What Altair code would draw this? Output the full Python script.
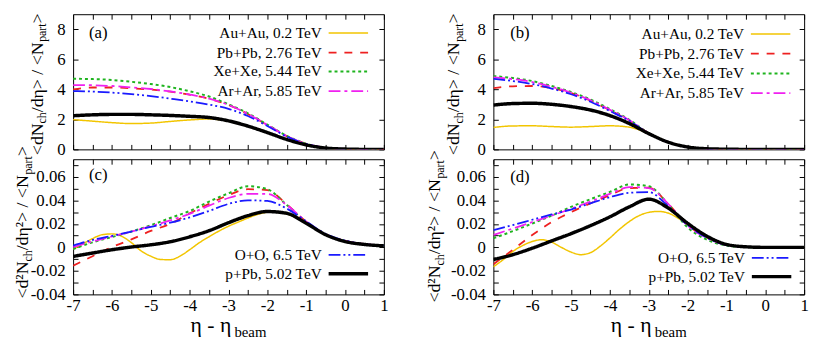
import altair as alt
import pandas as pd

FONT = "Liberation Serif"

# ---------------- data ----------------
X = [-7.0, -6.5, -6.0, -5.5, -5.0, -4.5, -4.0, -3.5, -3.0, -2.5, -2.0, -1.5, -1.0, -0.5, 0.0, 0.5, 1.0]
X_FINE = [-7.0, -6.75, -6.5, -6.25, -6.0, -5.75, -5.5, -5.25, -5.0, -4.75, -4.5, -4.25, -4.0, -3.75,
          -3.5, -3.25, -3.0, -2.75, -2.5, -2.25, -2.0, -1.75, -1.5, -1.25, -1.0, -0.75, -0.5, -0.25,
          0.0, 0.25, 0.5, 0.75, 1.0]

SERIES = ["Au+Au, 0.2 TeV", "Pb+Pb, 2.76 TeV", "Xe+Xe, 5.44 TeV", "Ar+Ar, 5.85 TeV",
          "O+O, 6.5 TeV", "p+Pb, 5.02 TeV"]
COLORS = ["#f2c500", "#ee2020", "#1fb41f", "#f020f0", "#1a1aff", "#000000"]
DASHES = [[1, 0], [8, 8], [3, 3], [12, 4, 3, 4], [12, 3, 2, 3, 2, 3], [1, 0]]
WIDTHS = [1.5, 1.8, 2.0, 1.8, 1.8, 3.5]

# panel (a)
A_AU = [1.98, 1.88, 1.78, 1.72, 1.75, 1.86, 1.96, 2.02, 1.88, 1.53, 1.11, 0.65, 0.29, 0.09, 0.02, 0.0, 0.0]
A_PB = [4.00, 4.12, 4.12, 4.07, 3.98, 3.84, 3.64, 3.37, 2.96, 2.36, 1.62, 0.88, 0.37, 0.11, 0.03, 0.01, 0.0]
A_XE = [4.70, 4.68, 4.62, 4.50, 4.35, 4.15, 3.87, 3.52, 3.00, 2.40, 1.65, 0.90, 0.38, 0.11, 0.03, 0.01, 0.0]
A_AR = [4.28, 4.27, 4.22, 4.13, 4.02, 3.86, 3.65, 3.38, 2.96, 2.36, 1.62, 0.88, 0.37, 0.11, 0.03, 0.01, 0.0]
A_OO = [3.88, 3.85, 3.78, 3.68, 3.55, 3.38, 3.20, 2.98, 2.70, 2.22, 1.56, 0.85, 0.36, 0.10, 0.03, 0.01, 0.0]
A_PPB = [2.24, 2.30, 2.33, 2.33, 2.30, 2.26, 2.20, 2.12, 1.90, 1.55, 1.12, 0.66, 0.30, 0.09, 0.02, 0.0, 0.0]

# panel (b)
B_AU = [1.46, 1.56, 1.57, 1.52, 1.48, 1.52, 1.57, 1.48, 1.05, 0.50, 0.18, 0.05, 0.01, 0.0, 0.0, 0.0, 0.0]
B_PB = [4.08, 4.20, 4.22, 4.08, 3.75, 3.25, 2.60, 1.92, 1.07, 0.48, 0.16, 0.04, 0.01, 0.0, 0.0, 0.0, 0.0]
B_XE = [4.88, 4.75, 4.55, 4.22, 3.82, 3.32, 2.68, 1.97, 1.08, 0.48, 0.16, 0.04, 0.01, 0.0, 0.0, 0.0, 0.0]
B_AR = [4.80, 4.68, 4.48, 4.17, 3.77, 3.27, 2.63, 1.94, 1.07, 0.48, 0.16, 0.04, 0.01, 0.0, 0.0, 0.0, 0.0]
B_OO = [4.70, 4.55, 4.35, 4.05, 3.67, 3.17, 2.55, 1.90, 1.06, 0.48, 0.16, 0.04, 0.01, 0.0, 0.0, 0.0, 0.0]
B_PPB = [2.95, 3.05, 3.07, 3.00, 2.85, 2.62, 2.25, 1.72, 1.05, 0.48, 0.16, 0.04, 0.01, 0.0, 0.0, 0.0, 0.0]

# panel (c)
C_AU = [-0.0015, 0.0030, 0.0075, 0.0108, 0.0115, 0.0095, 0.0040, -0.0030, -0.0075, -0.0103, -0.0105,
        -0.0075, -0.0020, 0.0040, 0.0090, 0.0138, 0.0180, 0.0215, 0.0250, 0.0280, 0.0298, 0.0298,
        0.0285, 0.0250, 0.0205, 0.0155, 0.0108, 0.0075, 0.0050, 0.0035, 0.0025, 0.0018, 0.0013]
C_PB = [-0.0156, -0.0075, 0.0003, 0.0068, 0.0140, 0.0200, 0.0290, 0.0370, 0.0445, 0.0495, 0.0488,
        0.0365, 0.0220, 0.0112, 0.0056, 0.0028, 0.0015]
C_XE = [-0.0014, 0.0043, 0.0088, 0.0135, 0.0188, 0.0250, 0.0310, 0.0390, 0.0460, 0.0520, 0.0495,
        0.0360, 0.0215, 0.0110, 0.0055, 0.0027, 0.0014]
C_AR = [0.0003, 0.0050, 0.0094, 0.0135, 0.0180, 0.0230, 0.0285, 0.0355, 0.0420, 0.0455, 0.0455,
        0.0360, 0.0220, 0.0112, 0.0056, 0.0028, 0.0015]
C_OO = [0.0015, 0.0063, 0.0098, 0.0135, 0.0175, 0.0210, 0.0255, 0.0310, 0.0370, 0.0400, 0.0395,
        0.0330, 0.0222, 0.0115, 0.0058, 0.0028, 0.0015]
C_PPB = [-0.0077, -0.0048, -0.0020, 0.0003, 0.0022, 0.0048, 0.0090, 0.0142, 0.0210, 0.0270, 0.0305,
         0.0290, 0.0205, 0.0108, 0.0050, 0.0025, 0.0013]

# panel (d)
D_AU = [-0.0165, -0.0105, -0.0035, 0.0015, 0.0050, 0.0065, 0.0045, 0.0000, -0.0040, -0.0062, -0.0045,
        0.0010, 0.0080, 0.0155, 0.0220, 0.0270, 0.0298, 0.0306, 0.0292, 0.0250, 0.0195, 0.0140,
        0.0090, 0.0050, 0.0025, 0.0010, 0.0004, 0.0001, 0.0, 0.0, 0.0, 0.0, 0.0]
D_PB = [-0.0144, -0.0020, 0.0105, 0.0215, 0.0300, 0.0375, 0.0445, 0.0505, 0.0508, 0.0370, 0.0190,
        0.0085, 0.0022, 0.0004, 0.0, 0.0, 0.0]
D_XE = [0.0078, 0.0138, 0.0203, 0.0270, 0.0345, 0.0410, 0.0472, 0.0535, 0.0520, 0.0365, 0.0170,
        0.0065, 0.0016, 0.0003, 0.0, 0.0, 0.0]
D_AR = [0.0106, 0.0160, 0.0215, 0.0270, 0.0328, 0.0390, 0.0455, 0.0513, 0.0505, 0.0370, 0.0185,
        0.0080, 0.0020, 0.0004, 0.0, 0.0, 0.0]
D_OO = [0.0147, 0.0190, 0.0235, 0.0280, 0.0322, 0.0375, 0.0428, 0.0465, 0.0470, 0.0350, 0.0190,
        0.0082, 0.0020, 0.0004, 0.0, 0.0, 0.0]
D_PPB = [-0.0103, -0.0062, -0.0007, 0.0055, 0.0117, 0.0185, 0.0260, 0.0345, 0.0410, 0.0335, 0.0205,
         0.0095, 0.0025, 0.0005, 0.0, 0.0, 0.0]

X_TICKS = [-7.0, -6.5, -6.0, -5.5, -5.0, -4.5, -4.0, -3.5, -3.0, -2.5, -2.0, -1.5, -1.0, -0.5, 0.0, 0.5, 1.0]
Y_TICKS_TOP = [0, 2, 4, 6, 8]
Y_TICKS_BOT = [-0.04, -0.03, -0.02, -0.01, 0, 0.01, 0.02, 0.03, 0.04, 0.05, 0.06, 0.07]

TITLE_TOP = [("<dN", 18, 0), ("ch", 12, 4), ("/dη> / <N", 18, 0), ("part", 12, 4), (">", 18, 0)]
TITLE_BOT = [("<d²N", 18, 0), ("ch", 12, 4), ("/dη²> / <N", 18, 0), ("part", 12, 4), (">", 18, 0)]
XTITLE = [("η - η", 22, 0), ("beam", 15, 5)]

# ---------------- helpers ----------------
W, H = 315, 137
CW = {'<': 0.564, '>': 0.564, 'd': 0.5, 'N': 0.722, '/': 0.278, ' ': 0.25, 'η': 0.56, '²': 0.3,
      'c': 0.444, 'h': 0.5, 'p': 0.5, 'a': 0.444, 'r': 0.333, 't': 0.278, '-': 0.333,
      'b': 0.5, 'e': 0.444, 'm': 0.778}


def twidth(s, size):
    return sum(CW.get(ch, 0.5) for ch in s) * size


def text(s, x, y, size, align="left", baseline="middle", angle=0, dx=0, dy=0):
    return alt.Chart(pd.DataFrame({"t": [s]})).mark_text(
        font=FONT, fontSize=size, align=align, baseline=baseline, angle=angle,
        dx=dx, dy=dy, color="black"
    ).encode(x=alt.value(x), y=alt.value(y), text="t:N")


def composite(segs, x, y, angle, gap=0.0):
    total = sum(twidth(t, s) for t, s, _ in segs) + gap * (len(segs) - 1)
    pos = -total / 2
    out = []
    for t, s, shift in segs:
        out.append(text(t, x, y, s, align="left", baseline="alphabetic", angle=angle, dx=pos, dy=shift))
        pos += twidth(t, s) + gap
    return out


def panel(ys, au, ydom, yticks, bottom, label, label_xy, legend_idx, legend_rows, legend_xr,
          title_segs, title_x, title_yc):
    xscale = alt.Scale(domain=[-7, 1], nice=False, zero=False)
    yscale = alt.Scale(domain=ydom, nice=False, zero=False)
    xaxis = alt.Axis(orient="bottom", values=X_TICKS, labels=bottom, tickSize=5, offset=-5,
                     title=None, labelPadding=3, labelFlush=False, labelOverlap=False,
                     labelExpr="datum.value % 1 == 0 ? '' + datum.value : ''")
    if bottom:
        yaxis = alt.Axis(orient="left", values=yticks, tickSize=5, offset=-5, title=None,
                         labelPadding=8, labelFlush=False, labelOverlap=False,
                         labelExpr="round(datum.value * 100) % 2 == 0 ? '' + datum.value : ''")
    else:
        yaxis = alt.Axis(orient="left", values=yticks, tickSize=5, offset=-5, title=None,
                         labelPadding=8, labelFlush=False, labelOverlap=False)
    layers = []
    all_series = [(X_FINE if bottom else X, au)] + [(X, v) for v in ys]
    for i, (xs, vals) in enumerate(all_series):
        df = pd.DataFrame({"x": xs, "y": vals})
        layers.append(alt.Chart(df).mark_line(
            color=COLORS[i], strokeDash=DASHES[i], strokeWidth=WIDTHS[i],
            interpolate="monotone", clip=True
        ).encode(x=alt.X("x:Q", scale=xscale, axis=xaxis),
                 y=alt.Y("y:Q", scale=yscale, axis=yaxis)))
    # panel label
    layers.append(text(label, label_xy[0], label_xy[1], 17))
    # legend
    for idx, ry in zip(legend_idx, legend_rows):
        layers.append(text(SERIES[idx], legend_xr, ry, 15.5, align="right"))
        layers.append(alt.Chart(pd.DataFrame({"t": [SERIES[idx]]})).mark_rule(
            color=COLORS[idx], strokeDash=DASHES[idx], strokeWidth=WIDTHS[idx]
        ).encode(x=alt.value(legend_xr + 7), x2=alt.value(legend_xr + 47), y=alt.value(ry)))
    # y title
    layers += composite(title_segs, title_x, title_yc, 270)
    # x title
    if bottom:
        layers += composite(XTITLE, W / 2, H + 38, 0, gap=1.5)
    inner = alt.layer(*layers)
    mirror_df = pd.DataFrame({"x": X, "y": ys[0]})
    mirror = alt.Chart(mirror_df).mark_line(opacity=0).encode(
        x=alt.X("x:Q", scale=xscale,
                axis=alt.Axis(orient="top", values=X_TICKS, labels=False, tickSize=5, offset=-5,
                              title=None)),
        y=alt.Y("y:Q", scale=yscale,
                axis=alt.Axis(orient="right", values=yticks, labels=False, tickSize=5, offset=-5,
                              title=None)))
    return alt.layer(inner, mirror).resolve_scale(x="independent", y="independent").properties(
        width=W, height=H)


pa = panel([A_PB, A_XE, A_AR, A_OO, A_PPB], A_AU, [0, 9], Y_TICKS_TOP, False, "(a)", (16, 19),
           [0, 1, 2, 3], [19, 39, 58, 78], 252, TITLE_TOP, -31, 71)
pb = panel([B_PB, B_XE, B_AR, B_OO, B_PPB], B_AU, [0, 9], Y_TICKS_TOP, False, "(b)", (17, 19),
           [0, 1, 2, 3], [20, 40, 60, 80], 254, TITLE_TOP, -35, 71)
pc = panel([C_PB, C_XE, C_AR, C_OO, C_PPB], C_AU, [-0.04, 0.075], Y_TICKS_BOT, True, "(c)", (16, 16),
           [4, 5], [97, 116], 252, TITLE_BOT, -46, 64)
pd_ = panel([D_PB, D_XE, D_AR, D_OO, D_PPB], D_AU, [-0.04, 0.075], Y_TICKS_BOT, True, "(d)", (17, 18),
            [4, 5], [100, 119], 255, TITLE_BOT, -54, 68)

chart = alt.concat(pa, pb, pc, pd_, columns=2, bounds="flush",
                   spacing=alt.RowColnumber(row=10, column=111)).properties(
    padding={"left": 5, "top": 2, "right": 5, "bottom": 2}
).configure_view(stroke="black", strokeWidth=1).configure_axis(
    labelFont=FONT, labelFontSize=17, labelColor="black", tickColor="black", tickWidth=1,
    domain=False, grid=False)

chart.save("out.html", embed_options={"renderer": "svg", "actions": False})
